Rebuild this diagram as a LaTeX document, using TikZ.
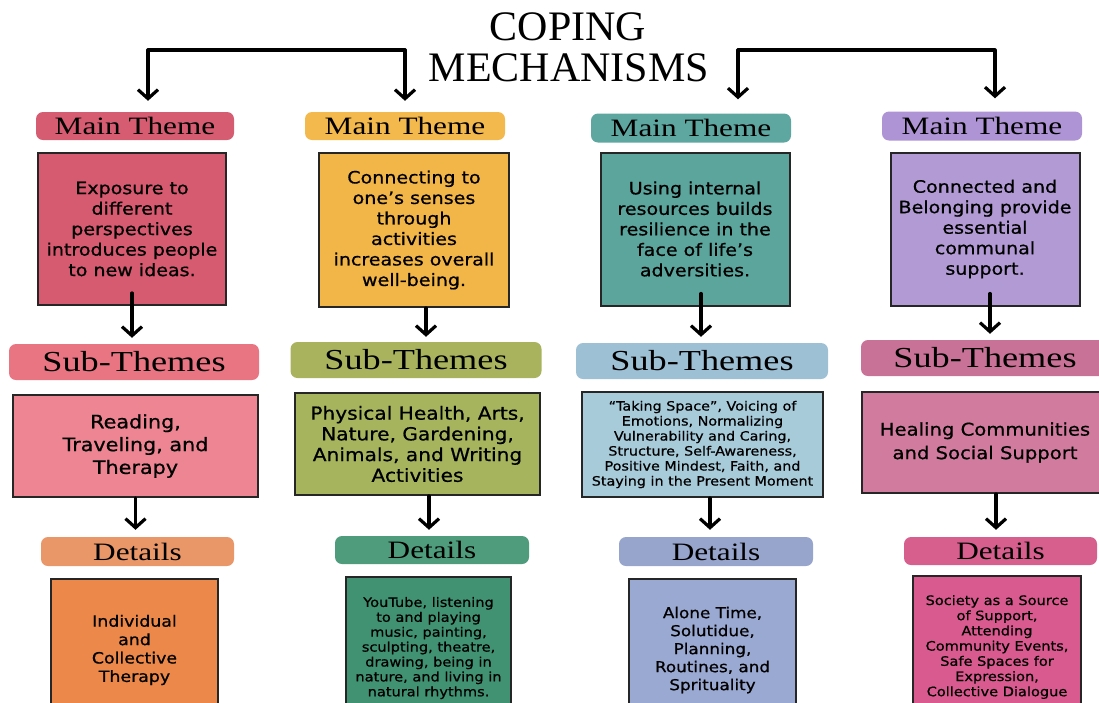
\documentclass[tikz,border=0pt]{standalone}
\usepackage{fontspec}
\setmainfont{Liberation Serif}
\newfontfamily\handfont[FakeStretch=1.12, FakeBold=0.7]{DejaVu Sans}
\newfontfamily\tagfont[FakeStretch=1.25]{Liberation Serif}
\usetikzlibrary{positioning, arrows.meta}

\definecolor{mainA}{HTML}{D65C72} \definecolor{cardA}{HTML}{D65A70}
\definecolor{mainB}{HTML}{F4B94C} \definecolor{cardB}{HTML}{F2B548}
\definecolor{mainC}{HTML}{5EA7A0} \definecolor{cardC}{HTML}{5BA59D}
\definecolor{mainD}{HTML}{AE94D4} \definecolor{cardD}{HTML}{B29BD5}
\definecolor{subA}{HTML}{E97583} \definecolor{subcardA}{HTML}{ED8593}
\definecolor{subB}{HTML}{A9B35D} \definecolor{subcardB}{HTML}{A6B45E}
\definecolor{subC}{HTML}{9EC0D4} \definecolor{subcardC}{HTML}{A8CBDA}
\definecolor{subD}{HTML}{C97297} \definecolor{subcardD}{HTML}{D17C9E}
\definecolor{detA}{HTML}{E99669} \definecolor{detcardA}{HTML}{EC8849}
\definecolor{detB}{HTML}{4E9C7B} \definecolor{detcardB}{HTML}{419272}
\definecolor{detC}{HTML}{97A5CC} \definecolor{detcardC}{HTML}{9AA9D1}
\definecolor{detD}{HTML}{D65F8E} \definecolor{detcardD}{HTML}{D95A8E}

\tikzset{>={Straight Barb[length=9pt,width=20pt]},
  heading/.style={inner sep=0pt, font=\fontsize{42}{44}\selectfont},
  tag/.style={rounded corners=7pt, inner sep=0pt, minimum height=28pt,
    font=\tagfont\fontsize{25}{28}\selectfont},
  subtag/.style={tag, minimum height=36pt, font=\tagfont\fontsize{29}{32}\selectfont},
  card/.style={draw=black!85, line width=2pt, inner sep=0pt, align=center},
  flow/.style={->, line width=3.2pt, line cap=round, line join=round}
}

\begin{document}
\begin{tikzpicture}[x=1pt, y=-1pt]
    \useasboundingbox (0,0) rectangle (1099,702);
    \clip (0,0) rectangle (1099,702);

    % title
    \node[heading] (title1) at (568,27) {COPING};
    \node[heading] (title2) at (569,68) {MECHANISMS};

    % main themes
    \node[tag, fill=mainA, minimum width=198pt] (ml1) at (135,126) {Main Theme};
    \node[tag, fill=mainB, minimum width=200pt] (ml2) at (405,126) {Main Theme};
    \node[tag, fill=mainC, minimum width=200pt, minimum height=29pt] (ml3) at (691,128) {Main Theme};
    \node[tag, fill=mainD, minimum width=200pt, minimum height=29pt] (ml4) at (982,126) {Main Theme};

    \node[card, fill=cardA, minimum width=188pt, minimum height=152pt,
      font=\handfont\fontsize{17}{20.5}\selectfont] (mc1) at (132,229)
      {Exposure to\\different\\perspectives\\introduces people\\to new ideas.};
    \node[card, fill=cardB, minimum width=190pt, minimum height=154pt,
      font=\handfont\fontsize{17}{20.5}\selectfont] (mc2) at (414,230)
      {Connecting to\\one’s senses\\through\\activities\\increases overall\\well-being.};
    \node[card, fill=cardC, minimum width=189pt, minimum height=153pt,
      font=\handfont\fontsize{17}{20.5}\selectfont] (mc3) at (695,229)
      {Using internal\\resources builds\\resilience in the\\face of life’s\\adversities.};
    \node[card, fill=cardD, minimum width=189pt, minimum height=153pt,
      font=\handfont\fontsize{17}{20.5}\selectfont] (mc4) at (985,229)
      {Connected and\\Belonging provide\\essential\\communal\\support.};

    % sub-themes
    \node[subtag, fill=subA, minimum width=250pt] (st1) at (134,362) {Sub-Themes};
    \node[subtag, fill=subB, minimum width=251pt] (st2) at (416,360) {Sub-Themes};
    \node[subtag, fill=subC, minimum width=252pt] (st3) at (702,361) {Sub-Themes};
    \node[subtag, fill=subD, minimum width=248pt] (st4) at (985,358) {Sub-Themes};

    \node[card, fill=subcardA, minimum width=245pt, minimum height=102pt,
      font=\handfont\fontsize{18.5}{22.8}\selectfont] (sc1) at (135.5,446)
      {Reading,\\Traveling, and\\Therapy};
    \node[card, fill=subcardB, minimum width=245pt, minimum height=102pt,
      font=\handfont\fontsize{18}{20.7}\selectfont] (sc2) at (417.5,444)
      {Physical Health, Arts,\\Nature, Gardening,\\Animals, and Writing\\Activities};
    \node[card, fill=subcardC, minimum width=241pt, minimum height=105pt,
      font=\handfont\fontsize{12.8}{15}\selectfont] (sc3) at (702.5,444.5)
      {“Taking Space”, Voicing of\\Emotions, Normalizing\\Vulnerability and Caring,\\Structure, Self-Awareness,\\Positive Mindest, Faith, and\\Staying in the Present Moment};
    \node[card, fill=subcardD, minimum width=246pt, minimum height=101pt,
      font=\handfont\fontsize{17.5}{23.5}\selectfont] (sc4) at (985,442.5)
      {Healing Communities\\and Social Support};

    % details
    \node[tag, fill=detA, minimum width=193pt, minimum height=29pt] (dt1) at (137.5,551.5) {Details};
    \node[tag, fill=detB, minimum width=194pt] (dt2) at (432,550) {Details};
    \node[tag, fill=detC, minimum width=194pt, minimum height=29pt] (dt3) at (716,551.5) {Details};
    \node[tag, fill=detD, minimum width=193pt] (dt4) at (1000.5,551) {Details};

    \node[card, fill=detcardA, minimum width=167pt, minimum height=143pt,
      font=\handfont\fontsize{15.5}{18.4}\selectfont] (dc1) at (134.5,650)
      {Individual\\and\\Collective\\Therapy};
    \node[card, fill=detcardB, minimum width=165pt, minimum height=143pt,
      font=\handfont\fontsize{13}{14.9}\selectfont] (dc2) at (428.5,648)
      {YouTube, listening\\to and playing\\music, painting,\\sculpting, theatre,\\drawing, being in\\nature, and living in\\natural rhythms.};
    \node[card, fill=detcardC, minimum width=167pt, minimum height=143pt,
      font=\handfont\fontsize{15}{18}\selectfont] (dc3) at (712.5,650)
      {Alone Time,\\Solutidue,\\Planning,\\Routines, and\\Sprituality};
    \node[card, fill=detcardD, minimum width=168pt, minimum height=143pt,
      font=\handfont\fontsize{13}{15.2}\selectfont] (dc4) at (997,647)
      {Society as a Source\\of Support,\\Attending\\Community Events,\\Safe Spaces for\\Expression,\\Collective Dialogue};

    % brackets from the title
    \coordinate (lhub) at (405,50);
    \coordinate (rhub) at (738,50);
    \draw[flow] (lhub) -| ([xshift=13pt,yshift=11pt]ml1.north);
    \draw[flow] (lhub) -- ([yshift=11pt]ml2.north);
    \draw[flow] (rhub) -- ([xshift=47pt,yshift=14pt]ml3.north);
    \draw[flow] (rhub) -| ([xshift=13pt,yshift=13pt]ml4.north);

    % main -> sub
    \draw[flow] ([yshift=13pt]mc1.south) -- ([yshift=6pt]mc1.south |- st1.north);
    \draw[flow] ([xshift=12pt]mc2.south) -- ([xshift=12pt,yshift=5pt]mc2.south |- st2.north);
    \draw[flow] ([xshift=6pt,yshift=13pt]mc3.south) -- ([xshift=6pt,yshift=6pt]mc3.south |- st3.north);
    \draw[flow] ([xshift=5pt,yshift=13pt]mc4.south) -- ([xshift=5pt,yshift=6pt]mc4.south |- st4.north);

    % sub -> details
    \draw[flow] (sc1.south) -- ([yshift=7pt]sc1.south |- dt1.north);
    \draw[flow] ([xshift=11.5pt]sc2.south) -- ([xshift=11.5pt,yshift=6pt]sc2.south |- dt2.north);
    \draw[flow] ([xshift=7.5pt]sc3.south) -- ([xshift=7.5pt,yshift=7pt]sc3.south |- dt3.north);
    \draw[flow] ([xshift=11pt]sc4.south) -- ([xshift=11pt,yshift=7pt]sc4.south |- dt4.north);
\end{tikzpicture}
\end{document}
